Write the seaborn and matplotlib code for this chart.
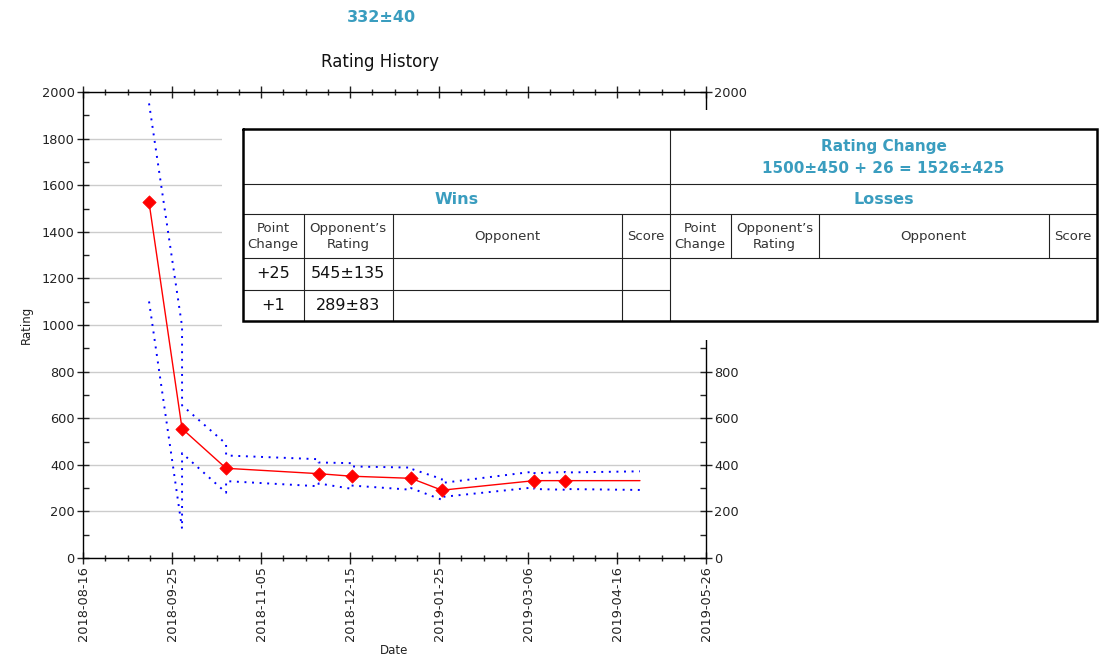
import numpy as np
import pandas as pd
import matplotlib
matplotlib.use("Agg")
import matplotlib.pyplot as plt
import matplotlib.dates as mdates
import seaborn as sns

# ---------------- data ----------------
game_dates = ["2018-09-15", "2018-09-30", "2018-10-20", "2018-12-01", "2018-12-16",
              "2019-01-12", "2019-01-26", "2019-03-09", "2019-03-23"]
ratings = [1526, 555, 385, 362, 351, 342, 291, 332, 332]
upper_pre = [1951, 994, 490, 424, 407, 388, 339, 371, 369]
upper_post = [1951, 655, 440, 410, 393, 383, 322, 364, 367]
lower_pre = [1101, 126, 280, 308, 297, 293, 250, 303, 293]
lower_post = [1101, 450, 330, 320, 311, 300, 262, 296, 296]
end_date = "2019-04-26"
end_rating = 332
end_upper = 372
end_lower = 292

x_tick_labels = ["2018-08-16", "2018-09-25", "2018-11-05", "2018-12-15",
                 "2019-01-25", "2019-03-06", "2019-04-16", "2019-05-26"]
y_ticks = list(range(0, 2001, 200))
y_minor = list(range(0, 2001, 100))
right_hidden = [1000, 1200, 1400, 1600, 1800]   # right-hand labels covered by the table

title_text = "Rating History"
summary_text = "332±40"
rating_change_lines = ["Rating Change", "1500±450 + 26 = 1526±425"]
section_titles = ["Wins", "Losses"]
column_headers = ["Point\nChange", "Opponent’s\nRating", "Opponent", "Score"]
win_rows = [["+25", "545±135", "", ""], ["+1", "289±83", "", ""]]

# ---------------- style ----------------
sns.set_theme(style="white")
plt.rcParams['font.family'] = ['DejaVu Sans']
TEAL = "#3a9dbf"

W, H = 1101, 659
fig = plt.figure(figsize=(W / 100, H / 100), dpi=100)
fig.patch.set_facecolor("white")
ax = fig.add_axes([83 / W, 1 - 558 / H, (706 - 83) / W, (558 - 92) / H])
ax.set_facecolor("white")

dates = pd.to_datetime(game_dates)
end_ts = pd.Timestamp(end_date)

line_df = pd.DataFrame({"Date": list(dates) + [end_ts],
                        "Rating": ratings + [end_rating]})


def band_frame(pre, post, end_val):
    xs, ys = [], []
    for d, a, b in zip(dates, pre, post):
        xs += [d, d]
        ys += [a, b]
    xs.append(end_ts)
    ys.append(end_val)
    return pd.DataFrame({"Date": xs, "Rating": ys})


upper_df = band_frame(upper_pre, upper_post, end_upper)
lower_df = band_frame(lower_pre, lower_post, end_lower)

for bdf in (upper_df, lower_df):
    sns.lineplot(data=bdf, x="Date", y="Rating", sort=False, estimator=None,
                 color="#0000ff", linewidth=1.4, linestyle=(0, (1, 2.9)), ax=ax, zorder=3)

sns.lineplot(data=line_df, x="Date", y="Rating", sort=False, estimator=None,
             color="#ff0000", linewidth=1.0, ax=ax, zorder=4)
sns.scatterplot(x=dates, y=ratings, marker="D", s=46, color="#ff0000",
                edgecolor="#ff0000", linewidth=0.5, ax=ax, zorder=5)

# ---------------- axes ----------------
x0 = mdates.date2num(pd.Timestamp(x_tick_labels[0]))
x1 = mdates.date2num(pd.Timestamp(x_tick_labels[-1]))
ax.set_xlim(x0, x1)
ax.set_xticks(np.linspace(x0, x1, len(x_tick_labels)))
ax.set_xticklabels(x_tick_labels, rotation=90)
ax.set_xticks(np.linspace(x0, x1, 4 * (len(x_tick_labels) - 1) + 1), minor=True)

ax.set_ylim(0, 2000)
ax.set_yticks(y_ticks)
ax.set_yticklabels([str(v) for v in y_ticks])
ax.set_yticks(y_minor, minor=True)

ax.tick_params(which="both", top=True, right=True, bottom=True, left=True,
               labelright=True, labelsize=9.3, colors="#222222", width=1)
ax.tick_params(axis="y", which="major", direction="inout", length=8, pad=2)
ax.tick_params(axis="y", which="minor", direction="in", length=4)
ax.tick_params(axis="x", which="major", direction="inout", length=8, pad=2)
ax.tick_params(axis="x", which="minor", direction="inout", length=5)
for t in ax.get_xticklabels() + ax.get_yticklabels():
    t.set_color("#222222")
for val, tick in zip(y_ticks, ax.yaxis.get_major_ticks()):
    if val in right_hidden:
        tick.label2.set_visible(False)

for s in ax.spines.values():
    s.set_visible(True)
    s.set_color("black")
    s.set_linewidth(1.0)

ax.grid(axis="y", which="major", color="#cccccc", linewidth=1.0)
ax.grid(axis="x", visible=False)
ax.set_axisbelow(True)

ax.set_xlabel("Date", fontsize=8.5, color="#222222", labelpad=2)
ax.set_ylabel("Rating", fontsize=8.5, color="#222222", labelpad=6)

fig.text(380 / W, 1 - 62 / H, title_text, ha="center", va="center", fontsize=12, color="#111111")
fig.text(381 / W, 1 - 17 / H, summary_text, ha="center", va="center", fontsize=11.5,
         fontweight="bold", color=TEAL)

# ---------------- table overlay ----------------
tax = fig.add_axes([222 / W, 1 - 340 / H, (W - 222) / W, (340 - 110) / H], zorder=10)
tax.set_xlim(222, W)
tax.set_ylim(340, 110)
tax.set_facecolor("white")
tax.set_xticks([])
tax.set_yticks([])
for s in tax.spines.values():
    s.set_visible(False)

TL, TR, TT, TB = 243, 1097, 129, 321
MID = 670
r1, r2, r3, r4 = 183.5, 213.5, 258, 289.5
win_cols = [TL, 303.5, 392.5, 621.5, MID]
loss_cols = [MID, 730.5, 818.5, 1049, TR]
thin = dict(color="#222222", linewidth=0.8, solid_capstyle="butt")

for yy in (r1, r2, r3):
    tax.plot([TL, TR], [yy, yy], **thin)
tax.plot([TL, MID], [r4, r4], **thin)
tax.plot([MID, MID], [TT, TB], **thin)
for xx in win_cols[1:-1]:
    tax.plot([xx, xx], [r2, TB], **thin)
for xx in loss_cols[1:-1]:
    tax.plot([xx, xx], [r2, r3], **thin)
tax.plot([TL, TR, TR, TL, TL], [TT, TT, TB, TB, TT], color="black", linewidth=1.8,
         solid_joinstyle="miter")

cx_r = (MID + TR) / 2
tax.text(cx_r, 146, rating_change_lines[0], ha="center", va="center", fontsize=11,
         fontweight="bold", color=TEAL)
tax.text(cx_r, 168.5, rating_change_lines[1], ha="center", va="center", fontsize=11,
         fontweight="bold", color=TEAL)
tax.text((TL + MID) / 2, 199, section_titles[0], ha="center", va="center", fontsize=11.5,
         fontweight="bold", color=TEAL)
tax.text(cx_r, 199, section_titles[1], ha="center", va="center", fontsize=11.5,
         fontweight="bold", color=TEAL)

for cols in (win_cols, loss_cols):
    for i, h in enumerate(column_headers):
        cx = (cols[i] + cols[i + 1]) / 2
        tax.text(cx, 236.5, h, ha="center", va="center", fontsize=9.5, color="#333333",
                 linespacing=1.3)

row_centers = [274, 306]
for ry, row in zip(row_centers, win_rows):
    for i, val in enumerate(row):
        if val:
            cx = (win_cols[i] + win_cols[i + 1]) / 2
            tax.text(cx, ry, val, ha="center", va="center", fontsize=11.5, color="#111111")

fig.savefig("out.png", dpi=100, facecolor="white")
